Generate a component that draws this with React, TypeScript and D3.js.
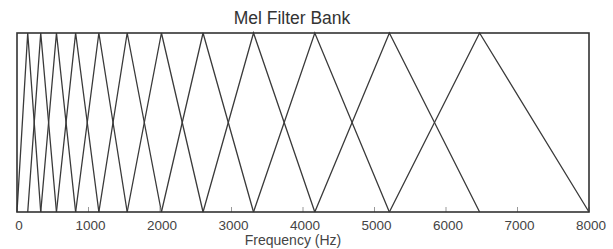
import React from "react";
import * as d3 from "d3";

// Filter edge / centre frequencies (Hz)
const edgeFreqs = [0, 150, 332, 552, 820, 1145, 1541, 2020, 2602, 3308, 4165, 5208, 6470, 8000];
const xTicks = [0, 1000, 2000, 3000, 4000, 5000, 6000, 7000, 8000];
const title = "Mel Filter Bank";
const xLabel = "Frequency (Hz)";

export default function App() {
  const W = 613, H = 249;
  const left = 17, right = 589, top = 33, bottom = 212;
  const x = d3.scaleLinear().domain([0, 8000]).range([left, right]);
  const y = d3.scaleLinear().domain([0, 1]).range([bottom, top]);
  const line = d3.line<[number, number]>().x(d => x(d[0])).y(d => y(d[1]));

  const filters: [number, number][][] = [];
  for (let i = 1; i < edgeFreqs.length - 1; i++) {
    filters.push([[edgeFreqs[i - 1], 0], [edgeFreqs[i], 1], [edgeFreqs[i + 1], 0]]);
  }

  return (
    <svg width={W} height={H} style={{ position: "absolute", left: 0, top: 0, background: "#fff" }}
      fontFamily="Liberation Sans, Arial, sans-serif">
      <text x={292} y={24} textAnchor="middle" fontSize={17.5} fill="#333">{title}</text>
      {filters.map((f, i) => (
        <path key={i} d={line(f) || ""} fill="none" stroke="#3a3a3a" strokeWidth={1.3} />
      ))}
      {xTicks.map(t => (
        <g key={t}>
          <line x1={x(t)} x2={x(t)} y1={bottom} y2={bottom - 5} stroke="#999" strokeWidth={1} />
          <text x={x(t) + 2} y={230} textAnchor="middle" fontSize={13.5} fill="#444">{t}</text>
        </g>
      ))}
      <rect x={left} y={top} width={right - left} height={bottom - top} fill="none" stroke="#333" strokeWidth={1.6} />
      <text x={293} y={245} textAnchor="middle" fontSize={14} fill="#444">{xLabel}</text>
    </svg>
  );
}
